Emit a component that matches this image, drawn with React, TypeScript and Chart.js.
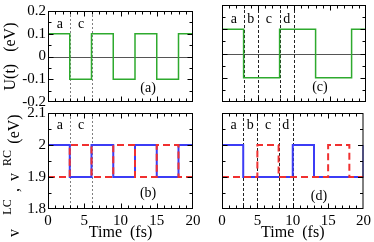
import React, { useEffect, useRef } from 'react';
import { Chart, registerables } from 'chart.js';
Chart.register(...registerables);

const SERIF = '"Liberation Serif", "Times New Roman", serif';

// ---------------- data ----------------
const timeA = [0, 3, 6, 9, 12, 15, 18, 20];
const potentialA = [0.1, -0.1, 0.1, -0.1, 0.1, -0.1, 0.1, 0.1];
const timeC = [0, 3, 8, 13, 18, 20];
const potentialC = [0.1, -0.1, 0.1, -0.1, 0.1, 0.1];
const timeB = [0, 3, 6, 9, 12, 15, 18, 20];
const vLC_B = [2.0, 1.9, 2.0, 1.9, 2.0, 1.9, 2.0, 2.0];
const vRC_B = [1.9, 2.0, 1.9, 2.0, 1.9, 2.0, 1.9, 1.9];
const timeLC_D = [0, 3, 10, 13, 20];
const vLC_D = [2.0, 1.9, 2.0, 1.9, 2.0];
const timeRC_D = [0, 5, 8, 15, 18, 20];
const vRC_D = [1.9, 2.0, 1.9, 2.0, 1.9, 1.9];

const boundariesLeft = [3, 6];
const boundariesRight = [3, 5, 8, 10];
const regionNamesLeft = ['a', 'c'];
const regionTimesLeft = [1.65, 4.55];
const regionNamesRight = ['a', 'b', 'c', 'd'];
const regionTimesRight = [1.65, 4.0, 6.5, 9.0];
const panelTags = ['(a)', '(c)', '(b)', '(d)'];
const panelTagTimes = [13.8, 13.6, 13.8, 13.7];

const uRange = [-0.2, 0.2];
const vRange = [1.8, 2.1];
const timeRange = [0, 20];
const timeStep = 5;
const valueStep = 0.1;

const GREEN = '#2eaa2e';
const BLUE = '#3c3cf5';
const RED = '#f03030';

type Spec = {
  pad: { left: number; right: number; top: number; bottom: number };
  yMin: number;
  yMax: number;
  showX: boolean;
  showY: boolean;
  yTitle?: string;
  datasets: any[];
  zero: boolean;
  vlines: number[];
  vColor: string;
  vDash: number[];
  names: string[];
  nameTimes: number[];
  nameY: number;
  tag: string;
  tagT: number;
  tagY: number;
  supLabel?: boolean;
};

const pts = (t: number[], v: number[]) => t.map((x, i) => ({ x, y: v[i] }));

const stepLine = (t: number[], v: number[], color: string, width: number, dash: number[] = []) => ({
  data: pts(t, v),
  borderColor: color,
  borderWidth: width,
  borderDash: dash,
  stepped: true,
  pointRadius: 0,
  fill: false,
});

function makeDeco(s: Spec) {
  return {
    id: 'deco',
    beforeDatasetsDraw(chart: any) {
      const { ctx, chartArea: a, scales } = chart;
      const x = scales.x, y = scales.y;
      ctx.save();
      ctx.beginPath();
      ctx.rect(a.left, a.top, a.right - a.left, a.bottom - a.top);
      ctx.clip();
      if (s.zero) {
        const py = Math.round(y.getPixelForValue(0)) + 0.5;
        ctx.strokeStyle = '#555';
        ctx.lineWidth = 1;
        ctx.beginPath();
        ctx.moveTo(a.left, py);
        ctx.lineTo(a.right, py);
        ctx.stroke();
      }
      ctx.strokeStyle = s.vColor;
      ctx.lineWidth = 1;
      ctx.setLineDash(s.vDash);
      for (const t of s.vlines) {
        const px = Math.round(x.getPixelForValue(t)) + 0.5;
        ctx.beginPath();
        ctx.moveTo(px, a.top);
        ctx.lineTo(px, a.bottom);
        ctx.stroke();
      }
      ctx.restore();
    },
    afterDatasetsDraw(chart: any) {
      const { ctx, chartArea: a, scales } = chart;
      const x = scales.x, y = scales.y;
      ctx.save();
      ctx.strokeStyle = '#000';
      ctx.lineWidth = 1;
      ctx.setLineDash([]);
      const L = a.left + 0.5, R = a.right - 0.5, T = a.top + 0.5, B = a.bottom - 0.5;
      ctx.strokeRect(L, T, R - L, B - T);
      ctx.beginPath();
      const nx = Math.round((timeRange[1] - timeRange[0]) / 1);
      for (let i = 1; i < nx; i++) {
        const t = timeRange[0] + i;
        const len = i % 5 === 0 ? 5 : 3;
        const px = Math.round(x.getPixelForValue(t)) + 0.5;
        ctx.moveTo(px, B);
        ctx.lineTo(px, B - len);
        ctx.moveTo(px, T);
        ctx.lineTo(px, T + len);
      }
      const ny = Math.round((s.yMax - s.yMin) / 0.05);
      for (let i = 1; i < ny; i++) {
        const v = s.yMin + i * 0.05;
        const len = i % 2 === 0 ? 5 : 3;
        const py = Math.round(y.getPixelForValue(v)) + 0.5;
        ctx.moveTo(L, py);
        ctx.lineTo(L + len, py);
        ctx.moveTo(R, py);
        ctx.lineTo(R - len, py);
      }
      ctx.stroke();

      ctx.fillStyle = '#000';
      ctx.font = `14px ${SERIF}`;
      ctx.textAlign = 'center';
      ctx.textBaseline = 'middle';
      s.names.forEach((n, i) => {
        ctx.fillText(n, x.getPixelForValue(s.nameTimes[i]), y.getPixelForValue(s.nameY));
      });
      ctx.fillText(s.tag, x.getPixelForValue(s.tagT), y.getPixelForValue(s.tagY));
      ctx.restore();
    },
    afterDraw(chart: any) {
      if (!s.supLabel) return;
      const { ctx } = chart;
      ctx.save();
      ctx.fillStyle = '#000';
      ctx.textAlign = 'center';
      ctx.textBaseline = 'alphabetic';
      const baseX = 19;
      const parts = [
        { t: 'v', c: 233, sup: false },
        { t: 'LC', c: 207, sup: true },
        { t: ',', c: 190, sup: false },
        { t: 'v', c: 177, sup: false },
        { t: 'RC', c: 158, sup: true },
        { t: '(eV)', c: 129, sup: false },
      ];
      for (const p of parts) {
        ctx.save();
        ctx.translate(p.sup ? baseX - 8 : baseX, p.c);
        ctx.rotate(-Math.PI / 2);
        ctx.font = p.sup ? `12px ${SERIF}` : `16px ${SERIF}`;
        ctx.fillText(p.t, 0, 0);
        ctx.restore();
      }
      ctx.restore();
    },
  };
}

const fmt = (v: number) => {
  if (Math.abs(v) < 1e-9) return '0';
  return String(parseFloat(v.toFixed(2)));
};

function buildConfig(s: Spec): any {
  const font = { family: SERIF, size: 15 };
  return {
    type: 'line',
    data: { datasets: s.datasets },
    options: {
      animation: false,
      responsive: false,
      events: [],
      layout: { padding: s.pad },
      plugins: { legend: { display: false }, tooltip: { enabled: false }, title: { display: false } },
      scales: {
        x: {
          type: 'linear',
          min: timeRange[0],
          max: timeRange[1],
          grid: { display: false, drawTicks: false },
          border: { display: false },
          ticks: { display: s.showX, stepSize: timeStep, font, color: '#000', padding: 3, maxRotation: 0 },
          title: { display: s.showX, text: 'Time  (fs)', font: { family: SERIF, size: 16 }, color: '#000', padding: 0 },
          afterFit: (sc: any) => { sc.height = 33; },
        },
        y: {
          type: 'linear',
          min: s.yMin,
          max: s.yMax,
          grid: { display: false, drawTicks: false },
          border: { display: false },
          ticks: { display: s.showY, stepSize: valueStep, font, color: '#000', padding: 2, callback: (v: any) => fmt(Number(v)) },
          title: { display: !!s.yTitle, text: s.yTitle || '', font: { family: SERIF, size: 16 }, color: '#000', padding: { top: 1, bottom: 0 } },
          afterFit: (sc: any) => { sc.width = 48; },
        },
      },
    },
    plugins: [makeDeco(s)],
  };
}

const specs: Spec[] = [
  {
    pad: { left: 0, right: 181, top: 5, bottom: 107 },
    yMin: uRange[0], yMax: uRange[1], showX: false, showY: true, yTitle: 'U(t)   (eV)',
    datasets: [stepLine(timeA, potentialA, GREEN, 1.5)],
    zero: true, vlines: boundariesLeft, vColor: '#808080', vDash: [2, 2],
    names: regionNamesLeft, nameTimes: regionTimesLeft, nameY: 0.142,
    tag: panelTags[0], tagT: panelTagTimes[0], tagY: -0.138,
  },
  {
    pad: { left: 174, right: 8, top: 5, bottom: 107 },
    yMin: uRange[0], yMax: uRange[1], showX: false, showY: false,
    datasets: [stepLine(timeC, potentialC, GREEN, 1.5)],
    zero: true, vlines: boundariesRight, vColor: '#222', vDash: [3, 2],
    names: regionNamesRight, nameTimes: regionTimesRight, nameY: 0.142,
    tag: panelTags[1], tagT: panelTagTimes[1], tagY: -0.138,
  },
  {
    pad: { left: 0, right: 181, top: 113, bottom: 0 },
    yMin: vRange[0], yMax: vRange[1], showX: true, showY: true, supLabel: true,
    datasets: [stepLine(timeB, vRC_B, RED, 2, [7, 4]), stepLine(timeB, vLC_B, BLUE, 2)],
    zero: false, vlines: boundariesLeft, vColor: '#808080', vDash: [2, 2],
    names: regionNamesLeft, nameTimes: regionTimesLeft, nameY: 2.06,
    tag: panelTags[2], tagT: panelTagTimes[2], tagY: 1.85,
  },
  {
    pad: { left: 174, right: 8, top: 113, bottom: 0 },
    yMin: vRange[0], yMax: vRange[1], showX: true, showY: false,
    datasets: [stepLine(timeRC_D, vRC_D, RED, 2, [7, 4]), stepLine(timeLC_D, vLC_D, BLUE, 2)],
    zero: false, vlines: boundariesRight, vColor: '#222', vDash: [3, 2],
    names: regionNamesRight, nameTimes: regionTimesRight, nameY: 2.06,
    tag: panelTags[3], tagT: panelTagTimes[3], tagY: 1.84,
  },
];

export default function App() {
  const r0 = useRef<HTMLCanvasElement>(null);
  const r1 = useRef<HTMLCanvasElement>(null);
  const r2 = useRef<HTMLCanvasElement>(null);
  const r3 = useRef<HTMLCanvasElement>(null);
  const refs = [r0, r1, r2, r3];

  useEffect(() => {
    document.body.style.margin = '0';
    const charts = specs.map((s, i) => new Chart(refs[i].current as HTMLCanvasElement, buildConfig(s)));
    return () => charts.forEach((c) => c.destroy());
  }, []);

  return (
    <div style={{ position: 'fixed', left: 0, top: 0, width: 374, height: 242, background: '#fff' }}>
      {refs.map((r, i) => (
        <canvas
          key={i}
          ref={r}
          width={374}
          height={242}
          style={{ position: 'absolute', left: 0, top: 0, width: 374, height: 242 }}
        />
      ))}
    </div>
  );
}
